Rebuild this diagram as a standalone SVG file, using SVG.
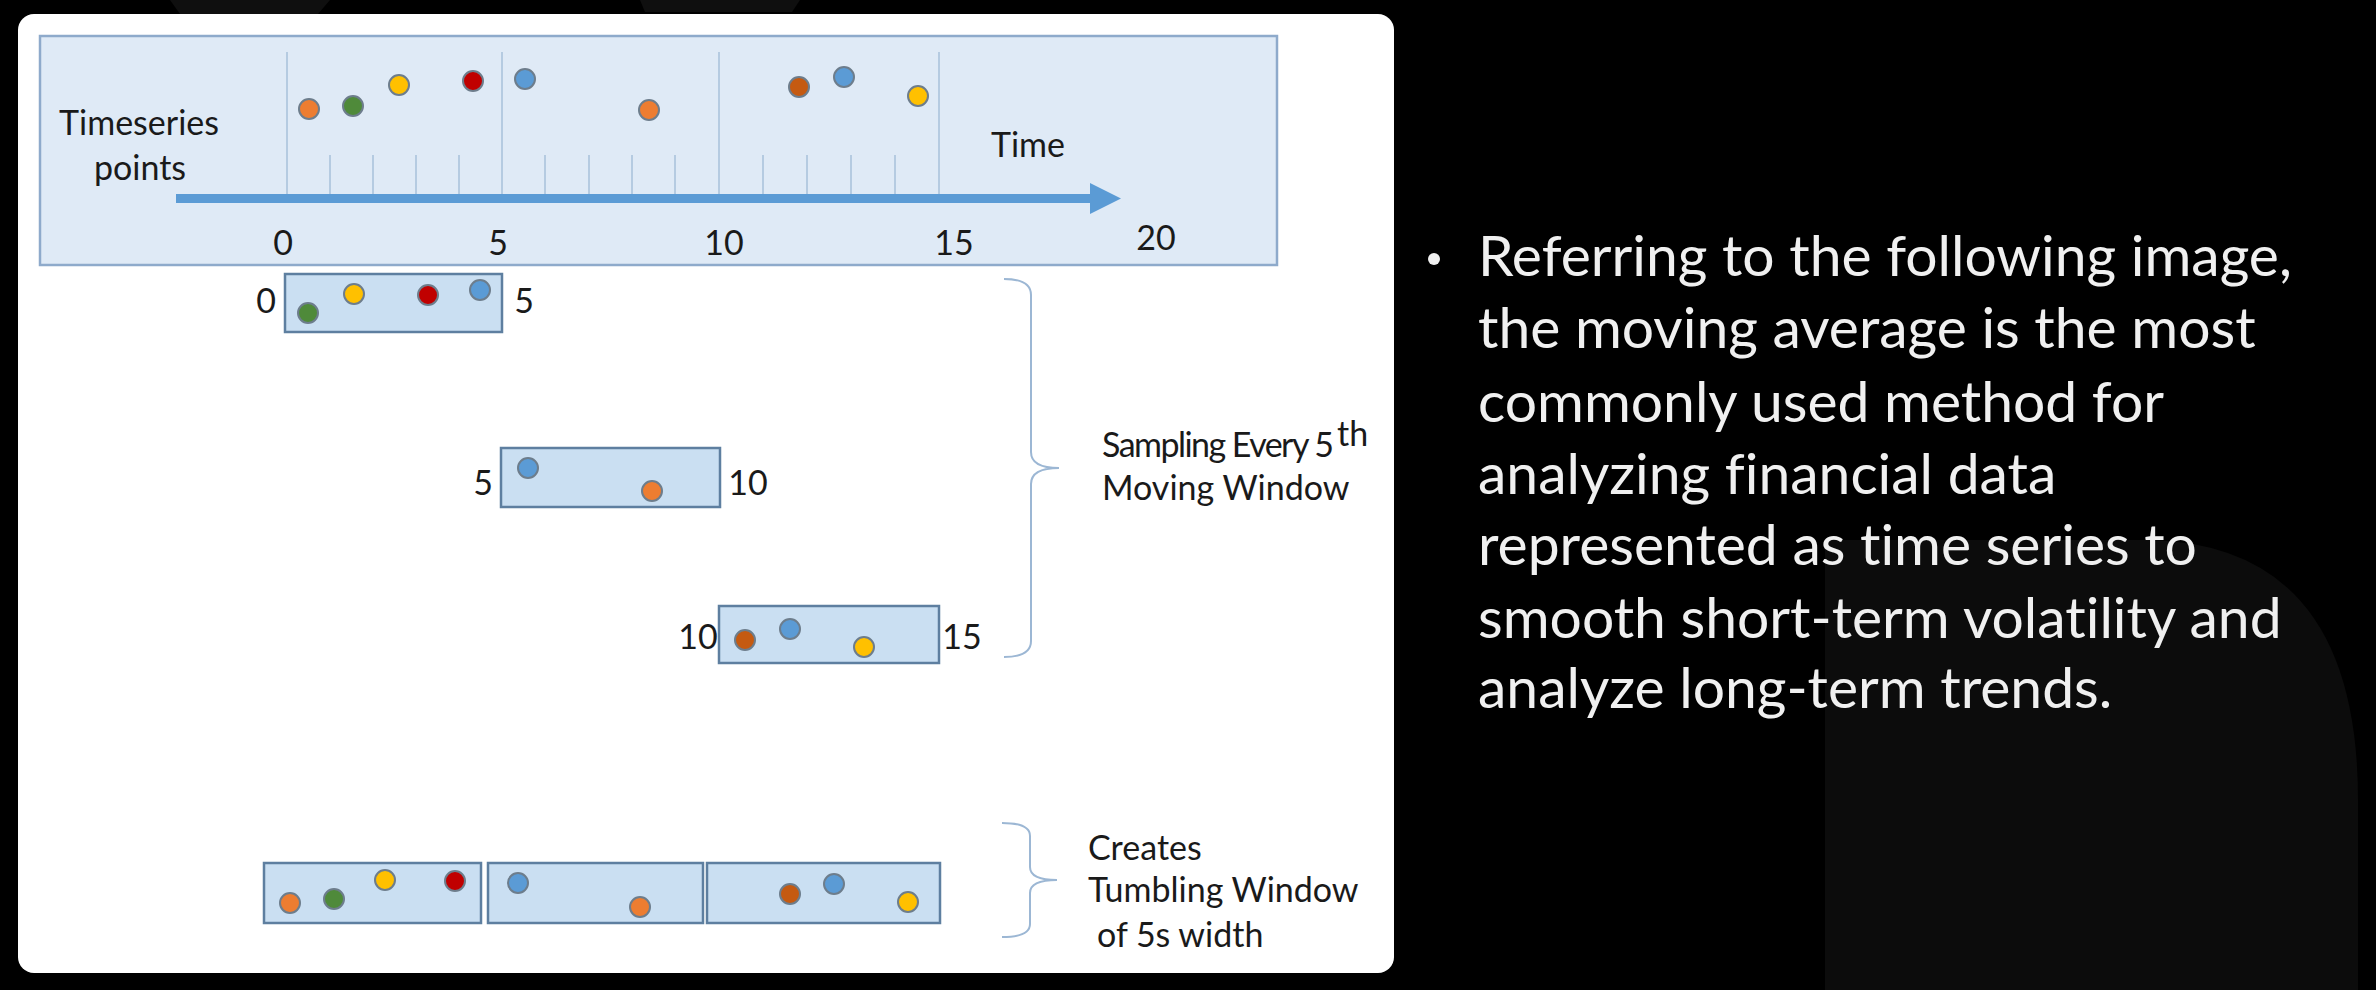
<svg xmlns="http://www.w3.org/2000/svg" width="2376" height="990" viewBox="0 0 2376 990">
<defs>
<style>
.lbl{font-family:Lato,"Liberation Sans",sans-serif;font-size:34px;fill:#1a1a1a}
.big{font-family:Lato,"Noto Sans",sans-serif;font-size:57px;fill:#f0f0f0;font-variant-ligatures:none}
.win{fill:#cadff2;stroke:#5e7fa0;stroke-width:2.5}
.grid{stroke:#a7c0da;stroke-width:1.5}
.dot{stroke:#6d7d8c;stroke-width:2}
.o{fill:#ed7d31}.g{fill:#4f8a3a}.y{fill:#ffc000}.r{fill:#c00000}.b{fill:#5b9bd5}.d{fill:#c55a11}
.brace{fill:none;stroke:#9cb7d4;stroke-width:2}
</style>
</defs>
<rect width="2376" height="990" fill="#000"/>
<g id="background">
<path d="M170,0 L330,0 L318,14 L180,14 Z" fill="#0f0f0f"/>
<path d="M640,0 L800,0 L792,12 L645,12 Z" fill="#0f0f0f"/>
<path d="M1825,990 L1825,540 L2150,540 Q2358,545 2358,800 L2358,990 Z" fill="#0c0c0c"/>
</g>
<rect id="panel" x="18" y="14" width="1376" height="959" rx="16" fill="#fff"/>
<g id="timeline">
<rect x="40" y="36" width="1237" height="229" fill="#dfeaf6" stroke="#8eaacb" stroke-width="2.5"/>
<g class="grid">
<line x1="287" y1="52" x2="287" y2="194"/><line x1="502" y1="52" x2="502" y2="194"/>
<line x1="719" y1="52" x2="719" y2="194"/><line x1="939" y1="52" x2="939" y2="194"/>
<line x1="330" y1="155" x2="330" y2="194"/><line x1="373" y1="155" x2="373" y2="194"/>
<line x1="416" y1="155" x2="416" y2="194"/><line x1="459" y1="155" x2="459" y2="194"/>
<line x1="545" y1="155" x2="545" y2="194"/><line x1="589" y1="155" x2="589" y2="194"/>
<line x1="632" y1="155" x2="632" y2="194"/><line x1="675" y1="155" x2="675" y2="194"/>
<line x1="763" y1="155" x2="763" y2="194"/><line x1="807" y1="155" x2="807" y2="194"/>
<line x1="851" y1="155" x2="851" y2="194"/><line x1="895" y1="155" x2="895" y2="194"/>
</g>
<text class="lbl" x="139" y="135" text-anchor="middle">Timeseries</text>
<text class="lbl" x="140" y="180" text-anchor="middle">points</text>
<text class="lbl" x="1028" y="157" text-anchor="middle">Time</text>
<text class="lbl" x="283" y="255" text-anchor="middle">0</text>
<text class="lbl" x="498" y="255" text-anchor="middle">5</text>
<text class="lbl" x="724" y="255" text-anchor="middle">10</text>
<text class="lbl" x="954" y="255" text-anchor="middle">15</text>
<text class="lbl" x="1156" y="250" text-anchor="middle">20</text>
<g class="dot">
<circle class="o" cx="309" cy="109" r="10"/><circle class="g" cx="353" cy="106" r="10"/>
<circle class="y" cx="399" cy="85" r="10"/><circle class="r" cx="473" cy="81" r="10"/>
<circle class="b" cx="525" cy="79" r="10"/><circle class="o" cx="649" cy="110" r="10"/>
<circle class="d" cx="799" cy="87" r="10"/><circle class="b" cx="844" cy="77" r="10"/>
<circle class="y" cx="918" cy="96" r="10"/>
</g>
</g>
<g id="connectors">
<path d="M176,194 L1090,194 L1090,183 L1121,198.5 L1090,214 L1090,203 L176,203 Z" fill="#5b9bd5"/>
<path class="brace" d="M1004,279 Q1031,279 1031,295 L1031,452 Q1031,468 1059,468 Q1031,468 1031,484 L1031,641 Q1031,657 1004,657"/>
<path class="brace" d="M1002,823 Q1030,823 1030,836 L1030,867 Q1030,880 1057,880 Q1030,880 1030,893 L1030,924 Q1030,937 1002,937"/>
</g>
<g id="window1">
<rect class="win" x="285" y="274" width="217" height="58"/>
<text class="lbl" x="266" y="313" text-anchor="middle">0</text>
<text class="lbl" x="524" y="313" text-anchor="middle">5</text>
<g class="dot">
<circle class="g" cx="308" cy="313" r="10"/><circle class="y" cx="354" cy="294" r="10"/>
<circle class="r" cx="428" cy="295" r="10"/><circle class="b" cx="480" cy="290" r="10"/>
</g>
</g>
<g id="window2">
<rect class="win" x="501" y="448" width="219" height="59"/>
<text class="lbl" x="483" y="495" text-anchor="middle">5</text>
<text class="lbl" x="748" y="495" text-anchor="middle">10</text>
<g class="dot">
<circle class="b" cx="528" cy="468" r="10"/><circle class="o" cx="652" cy="491" r="10"/>
</g>
</g>
<g id="window3">
<rect class="win" x="719" y="606" width="220" height="57"/>
<text class="lbl" x="698" y="649" text-anchor="middle">10</text>
<text class="lbl" x="962" y="649" text-anchor="middle">15</text>
<g class="dot">
<circle class="d" cx="745" cy="640" r="10"/><circle class="b" cx="790" cy="629" r="10"/>
<circle class="y" cx="864" cy="647" r="10"/>
</g>
</g>
<g id="moving-label">
<text class="lbl" x="1102" y="457" textLength="232" lengthAdjust="spacing">Sampling Every 5</text>
<text class="lbl" x="1337" y="446" font-size="21">th</text>
<text class="lbl" x="1102" y="500">Moving Window</text>
</g>
<g id="tumbling">
<rect class="win" x="264" y="863" width="217" height="60"/>
<rect class="win" x="488" y="863" width="215" height="60"/>
<rect class="win" x="707" y="863" width="233" height="60"/>
<g class="dot">
<circle class="o" cx="290" cy="903" r="10"/><circle class="g" cx="334" cy="899" r="10"/>
<circle class="y" cx="385" cy="880" r="10"/><circle class="r" cx="455" cy="881" r="10"/>
<circle class="b" cx="518" cy="883" r="10"/><circle class="o" cx="640" cy="907" r="10"/>
<circle class="d" cx="790" cy="894" r="10"/><circle class="b" cx="834" cy="884" r="10"/>
<circle class="y" cx="908" cy="902" r="10"/>
</g>
</g>
<g id="tumbling-label">
<text class="lbl" x="1088" y="860">Creates</text>
<text class="lbl" x="1088" y="902">Tumbling Window</text>
<text class="lbl" x="1097" y="947">of 5s width</text>
</g>
<g id="description">
<circle cx="1434" cy="259" r="6" fill="#f0f0f0"/>
<text class="big" x="1478" y="276">Referring to the following image,</text>
<text class="big" x="1478" y="348">the moving average is the most</text>
<text class="big" x="1478" y="422">commonly used method for</text>
<text class="big" x="1478" y="494">analyzing financial data</text>
<text class="big" x="1478" y="565">represented as time series to</text>
<text class="big" x="1478" y="638">smooth short-term volatility and</text>
<text class="big" x="1478" y="708">analyze long-term trends.</text>
</g>
</svg>
